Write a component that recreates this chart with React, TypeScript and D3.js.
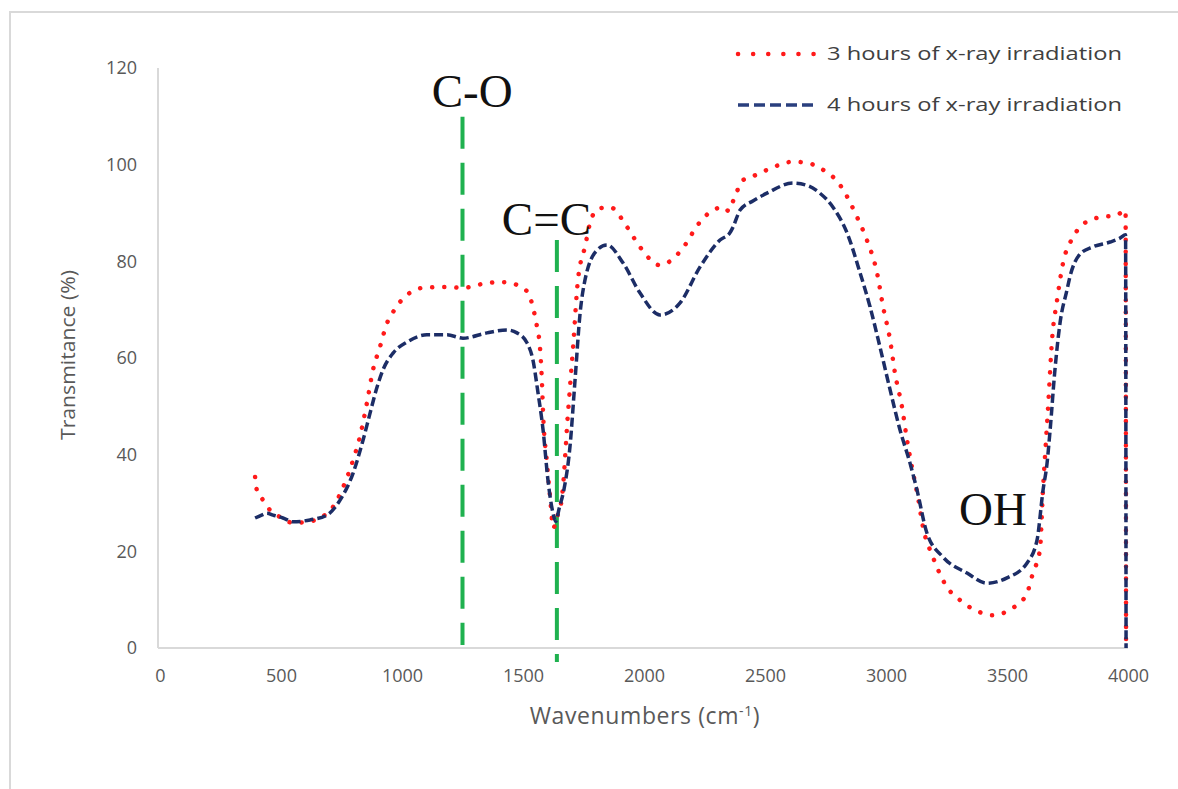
import React, { useEffect, useRef } from "react";
import * as d3 from "d3";

const xTicks = [0, 500, 1000, 1500, 2000, 2500, 3000, 3500, 4000];
const yTicks = [0, 20, 40, 60, 80, 100, 120];

const seriesNames = ["3 hours of x-ray irradiation", "4 hours of x-ray irradiation"];

// 3 hours (red dotted)
const redWavenumbers = [
  393, 400, 426, 455, 496, 550, 607, 661, 715, 757, 798, 826, 855, 880, 909, 938, 963, 992, 1033, 1083,
  1186, 1248, 1351, 1405, 1455, 1488, 1521, 1541, 1558, 1570, 1578, 1583, 1599, 1612, 1625, 1640, 1661,
  1686, 1707, 1727, 1756, 1785, 1820, 1860, 1930, 1983, 2066, 2149, 2231, 2285, 2330, 2350, 2370, 2409,
  2450, 2508, 2616, 2680, 2727, 2810, 2880, 2921, 2963, 2988, 3017, 3037, 3066, 3087, 3112, 3132, 3153,
  3194, 3252, 3306, 3388, 3438, 3525, 3583, 3607, 3636, 3649, 3660, 3670, 3686, 3707, 3731, 3773, 3802,
  3872, 3955, 3990, 3992,
];
const redTransmittance = [
  35.4, 32.7, 30.6, 28.5, 27.1, 25.9, 26.1, 26.9, 29.2, 33.3, 38.9, 43.7, 50.7, 57.5, 62.3, 67.2, 69.5, 71.6,
  73.5, 74.5, 74.7, 74.5, 75.5, 75.7, 75.5, 74.7, 73.5, 70.5, 66.4, 62.3, 55.4, 48.6, 38.3, 31.2, 24.8, 27,
  31.2, 48.6, 62.3, 76.1, 83, 89.2, 91, 91.2, 87.1, 83, 79.2, 82, 88.1, 90.6, 91.2, 90.4, 92.7, 96.8, 97.6,
  98.9, 100.6, 100.3, 99.3, 95.8, 89.2, 84.4, 77.6, 70.6, 63.7, 56.9, 49.9, 43, 36.2, 31.2, 25, 18.8, 12.6,
  9.9, 7.4, 6.8, 8.3, 11.4, 15.5, 20.3, 33, 42, 50, 63.7, 72, 79.5, 85, 87.1, 89, 89.6, 90.6, 0,
];

// 4 hours (navy dashed)
const blueWavenumbers = [
  393, 420, 442, 467, 508, 550, 620, 690, 744, 798, 839, 868, 897, 921, 963, 1021, 1103, 1186, 1252, 1351,
  1434, 1475, 1517, 1541, 1562, 1583, 1603, 1624, 1635, 1650, 1670, 1694, 1715, 1736, 1756, 1806, 1847,
  1913, 1983, 2066, 2149, 2231, 2314, 2355, 2368, 2397, 2450, 2508, 2616, 2680, 2727, 2781, 2839, 2893,
  2934, 2975, 3017, 3058, 3099, 3128, 3169, 3236, 3335, 3417, 3500, 3583, 3624, 3649, 3665, 3678, 3698,
  3719, 3748, 3760, 3802, 3855, 3926, 3967, 3990, 3992,
];
const blueTransmittance = [
  26.9, 27.5, 27.9, 27.5, 26.9, 26.1, 26.5, 27.5, 30.6, 36.2, 43, 48.6, 54, 57.5, 61, 63.3, 64.8, 64.8, 64.1,
  65.2, 65.8, 65.2, 63.1, 59.6, 52.8, 45.1, 34.8, 27.9, 26.2, 29, 33, 41.6, 55.4, 69.3, 76.1, 82.3, 83.4,
  79.7, 73.5, 68.9, 71.4, 78.8, 84.4, 85.9, 87.1, 90.6, 92.5, 94.1, 96.2, 95.6, 94.1, 91.2, 85.9, 77.6,
  70.6, 62.3, 53.4, 45.1, 38.3, 32.7, 23.8, 18.8, 15.5, 13.4, 14.5, 17.6, 22.3, 32.7, 38, 45, 57.5, 67.2,
  74.1, 76.8, 81.5, 83, 84, 84.8, 85.5, 0,
];

// band annotations
const bandLabels = ["C-O", "C=C", "OH"];
const bandLabelX = [1290, 1597, 3442];
const bandLabelY = [111.9, 85.4, 25.4];
const bandLineX = [1250, 1640];
const bandLineTop = [109.9, 84.4];
const bandLineBottom = [0.6, -2.9];

export default function App() {
  const ref = useRef<SVGSVGElement>(null);

  useEffect(() => {
    const svg = d3.select(ref.current);
    svg.selectAll("*").remove();

    const x = d3.scaleLinear().domain([0, 4000]).range([160, 1128]);
    const y = d3.scaleLinear().domain([0, 120]).range([648, 68]);
    const axisColor = "#d9d9d9";
    const textColor = "#595959";
    const font = "'Open Sans', sans-serif";

    // frame
    svg.append("path")
      .attr("d", "M10,789 L10,12 L1178,12")
      .attr("fill", "none")
      .attr("stroke", "#d9d9d9")
      .attr("stroke-width", 2);

    // x axis
    const gx = svg.append("g")
      .attr("transform", `translate(0,${y(0)})`)
      .call(d3.axisBottom(x).tickValues(xTicks).tickSize(0).tickPadding(21).tickFormat(d3.format("d")));
    gx.select(".domain").attr("stroke", axisColor).attr("stroke-width", 2)
      .attr("d", `M${x(0) - 2},0H${x(4000)}`);
    gx.selectAll("text").attr("fill", textColor).style("font-family", font).style("font-size", "18px");

    // y axis
    const gy = svg.append("g")
      .attr("transform", `translate(${x(0) - 2},0)`)
      .call(d3.axisLeft(y).tickValues(yTicks).tickSize(0).tickPadding(21));
    gy.select(".domain").attr("stroke", axisColor).attr("stroke-width", 2)
      .attr("d", `M0,${y(120)}V${y(0)}`);
    gy.selectAll("text").attr("fill", textColor).style("font-family", font).style("font-size", "18px");

    // axis titles
    svg.append("text")
      .attr("transform", `translate(75,355) rotate(-90)`)
      .attr("text-anchor", "middle")
      .attr("fill", textColor)
      .attr("textLength", 170)
      .attr("lengthAdjust", "spacingAndGlyphs")
      .style("font-family", font)
      .style("font-size", "20px")
      .text("Transmitance (%)");

    const xt = svg.append("text")
      .attr("x", 645)
      .attr("y", 724)
      .attr("text-anchor", "middle")
      .attr("fill", textColor)
      .style("font-family", font)
      .style("font-size", "23px")
      .style("letter-spacing", "0.6px");
    xt.append("tspan").text("Wavenumbers (cm");
    xt.append("tspan").attr("dy", -8).style("font-size", "14px").text("-1");
    xt.append("tspan").attr("dy", 8).text(")");

    // band marker lines
    bandLineX.forEach((v, i) => {
      svg.append("line")
        .attr("x1", x(v)).attr("x2", x(v))
        .attr("y1", y(bandLineTop[i])).attr("y2", y(bandLineBottom[i]))
        .attr("stroke", "#1fb14f")
        .attr("stroke-width", 4)
        .attr("stroke-dasharray", "32 14");
    });

    const line = d3.line<[number, number]>()
      .x((d) => x(d[0]))
      .y((d) => y(d[1]))
      .curve(d3.curveMonotoneX);

    const redData = redWavenumbers.map((w, i) => [w, redTransmittance[i]] as [number, number]);
    const blueData = blueWavenumbers.map((w, i) => [w, blueTransmittance[i]] as [number, number]);

    svg.append("path")
      .datum(redData)
      .attr("d", line)
      .attr("fill", "none")
      .attr("stroke", "#ff1a1a")
      .attr("stroke-width", 4.5)
      .attr("stroke-linecap", "round")
      .attr("stroke-dasharray", "0.1 12");

    svg.append("path")
      .datum(blueData)
      .attr("d", line)
      .attr("fill", "none")
      .attr("stroke", "#1c2d66")
      .attr("stroke-width", 3.5)
      .attr("stroke-dasharray", "9 4");

    // band labels
    bandLabels.forEach((t, i) => {
      svg.append("text")
        .attr("x", x(bandLabelX[i]))
        .attr("y", y(bandLabelY[i]))
        .attr("text-anchor", "middle")
        .attr("fill", "#111")
        .style("font-family", "'Liberation Serif', serif")
        .style("font-size", "47px")
        .text(t);
    });

    // legend
    const legendY = [54, 105];
    const styles = [
      { stroke: "#ff1a1a", width: 4.5, dash: "0.1 15", cap: "round" },
      { stroke: "#2a3f7e", width: 3.5, dash: "11 5", cap: "butt" },
    ];
    seriesNames.forEach((name, i) => {
      svg.append("line")
        .attr("x1", 738).attr("x2", 816)
        .attr("y1", legendY[i]).attr("y2", legendY[i])
        .attr("stroke", styles[i].stroke)
        .attr("stroke-width", styles[i].width)
        .attr("stroke-linecap", styles[i].cap)
        .attr("stroke-dasharray", styles[i].dash);
      svg.append("text")
        .attr("x", 827)
        .attr("y", legendY[i] + 6)
        .attr("fill", "#404040")
        .attr("textLength", 295)
        .attr("lengthAdjust", "spacingAndGlyphs")
        .style("font-family", font)
        .style("font-size", "18px")
        .text(name);
    });
  }, []);

  return (
    <svg
      ref={ref}
      width={1178}
      height={789}
      style={{ position: "absolute", left: 0, top: 0, background: "#fff" }}
    />
  );
}
